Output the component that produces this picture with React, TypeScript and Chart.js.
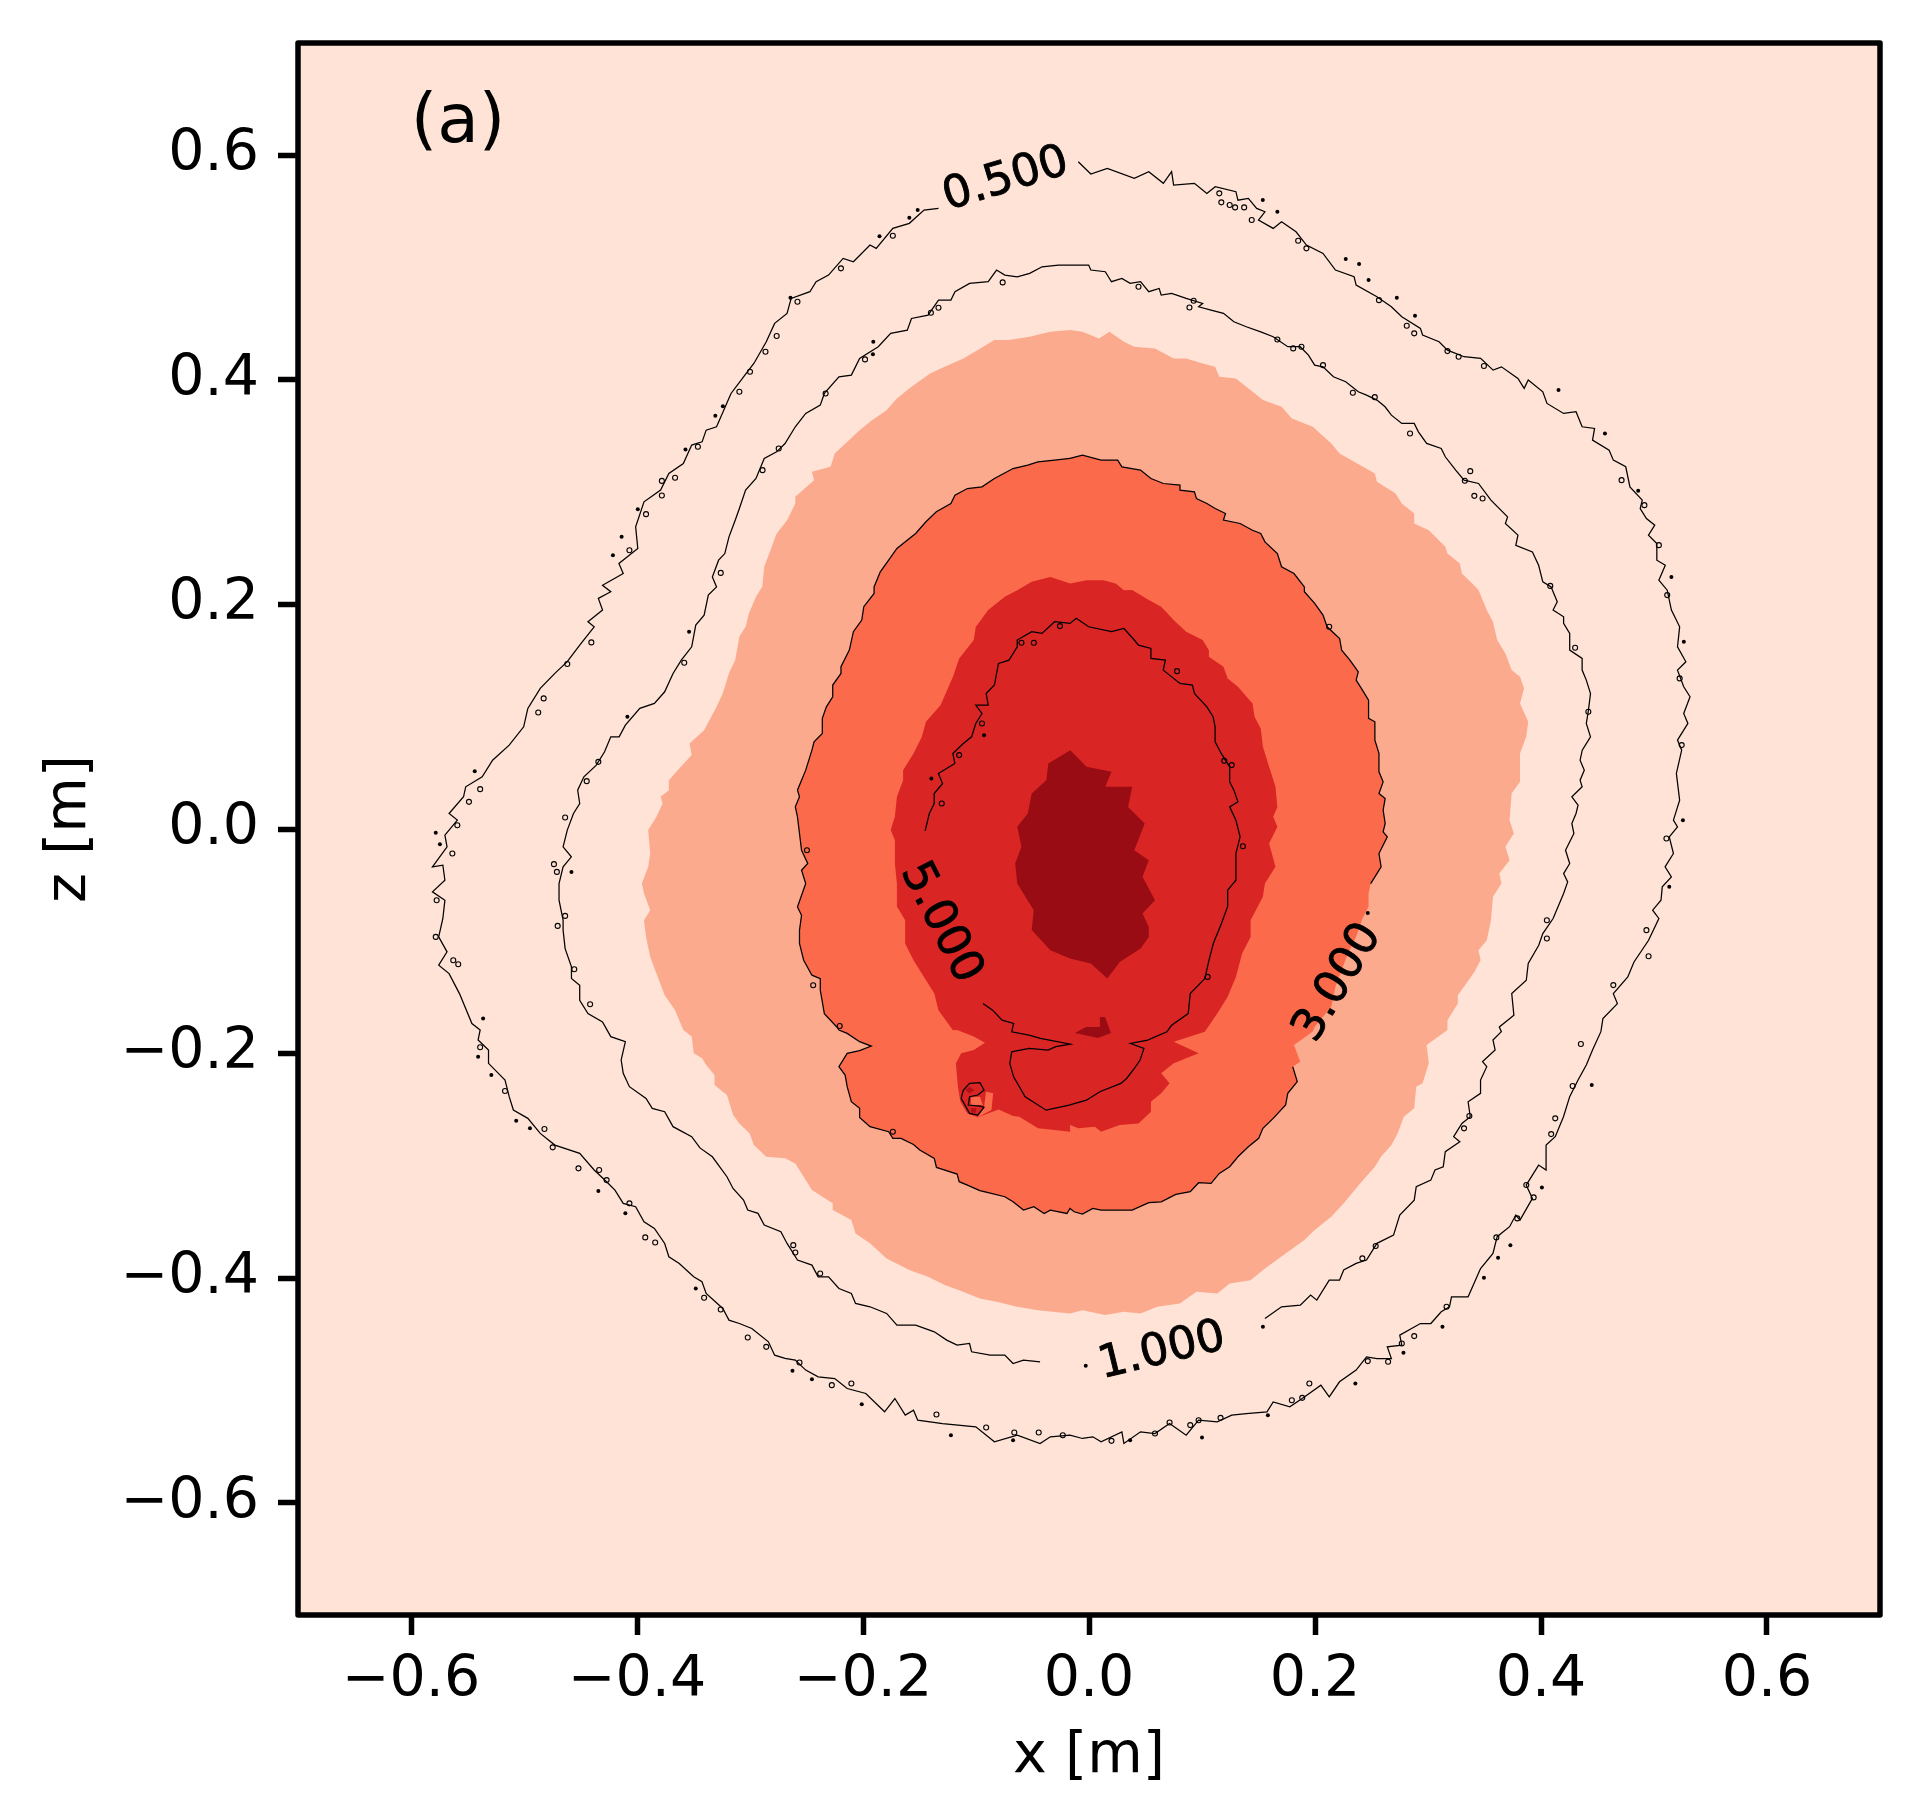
import { useEffect, useRef } from "react";
import { Chart, registerables } from "chart.js";

Chart.register(...registerables);

const tickValues = [-0.6, -0.4, -0.2, 0.0, 0.2, 0.4, 0.6];

// contour lines as [x, z]
const line05 = [
  [-.0095,.5943],[.0016,.5833],[.0162,.5884],[.0401,.5795],[.0529,.5854],[.0658,.575],[.0731,.5854],[.0749,.5735],[.0933,.575],[.1043,.566],[.1117,.572],[.13,.5676],[.1318,.56],[.141,.5616],[.1484,.5527],[.1557,.5497],[.15,.5423],[.163,.5349],[.1704,.5408],[.1832,.5319],[.1924,.52],[.2071,.5126],[.2181,.4978],[.2346,.4918],[.2364,.4844],[.2548,.474],[.2676,.4651],[.2768,.4562],[.2933,.4458],[.2952,.4399],[.3098,.4339],[.3172,.4265],[.3319,.4206],[.3466,.4191],[.3576,.4087],[.365,.4116],[.3796,.4013],[.3851,.3924],[.3887,.3998],[.4016,.3894],[.4053,.379],[.42,.3701],[.431,.3716],[.4364,.3582],[.4474,.3567],[.4456,.3463],[.4603,.3374],[.464,.3285],[.475,.3226],[.4787,.3047],[.4896,.2929],[.4878,.2854],[.4933,.2765],[.5007,.2706],[.4951,.2617],[.5025,.2543],[.5025,.2394],[.51,.2349],[.5043,.2216],[.5117,.2127],
  [.5154,.195],[.5227,.1801],[.5208,.1623],[.5282,.1489],[.5208,.1415],[.5263,.1267],[.5319,.1178],[.5263,.1029],[.53,.094],[.5208,.0792],[.5245,.0702],[.5198,.0495],[.5227,.0257],[.5172,.0079],[.5208,.0019],[.5135,-.007],[.5172,-.0218],[.5098,-.0337],[.5154,-.0426],[.5073,-.0515],[.5062,-.0634],[.4988,-.0723],[.5043,-.0797],[.4952,-.0991],[.4823,-.1184],[.4768,-.1317],[.464,-.1466],[.4676,-.1555],[.4548,-.1689],[.453,-.1805],
  [.4456,-.1968],[.4401,-.2102],[.4328,-.2236],[.4254,-.2384],[.4199,-.2562],[.4126,-.274],[.4045,-.2815],[.4045,-.3037],[.3979,-.2993],[.3869,-.3171],[.3924,-.329],[.3814,-.3483],[.3777,-.3438],[.3722,-.3542],[.3612,-.3631],[.3575,-.378],[.3465,-.3914],[.3355,-.4166],[.3208,-.4166],[.319,-.4255],[.3117,-.43],[.3025,-.4404],[.2933,-.4404],[.275,-.4508],[.2768,-.4597],[.264,-.4612],[.2676,-.4716],[.2548,-.4716],[.2456,-.4701],[.2364,-.4819],[.2217,-.4923],[.2126,-.5057],[.2052,-.4953],[.1887,-.5072],[.1777,-.5146],[.163,-.5102],[.1575,-.5191],[.1392,-.5206],[.1263,-.522],[.1135,-.528],[.097,-.5265],[.086,-.5399],[.0713,-.5295],[.0584,-.5384],[.0456,-.5369],[.0309,-.5473],[.0291,-.5369],[.0107,-.5458],[.0034,-.5413],[-.0058,-.5428],[-.0168,-.5399],
  [-.0342,-.5413],[-.0433,-.5473],[-.0635,-.5399],[-.0837,-.5458],[-.1002,-.5324],[-.1296,-.5295],[-.1516,-.5265],[-.1553,-.5176],[-.1626,-.522],[-.1718,-.5072],[-.1809,-.519],[-.1975,-.5027],[-.214,-.4983],[-.225,-.4894],[-.2397,-.4879],[-.2507,-.4819],[-.2599,-.473],[-.269,-.4715],[-.2782,-.4686],[-.2837,-.4567],[-.2984,-.4448],[-.3094,-.4404],[-.3186,-.4374],[-.3241,-.427],[-.3388,-.4136],[-.3425,-.4032],[-.3498,-.3988],[-.3626,-.3869],[-.3718,-.381],[-.3755,-.3691],[-.3846,-.3557],[-.3938,-.3498],[-.4012,-.3364],[-.4122,-.3334],[-.4195,-.3216],[-.4269,-.3141],[-.4379,-.3037],[-.4507,-.2889],[-.4727,-.2815],[-.4856,-.2711],[-.4966,-.2577],[-.5094,-.2503],[-.5131,-.2384],[-.5168,-.2236],[-.5314,-.2087],[-.5314,-.1968],[-.5406,-.1879],[-.5388,-.179],
  [-.5461,-.1733],[-.5571,-.1466],[-.5663,-.1288],[-.5755,-.1213],[-.5681,-.1094],[-.5755,-.0961],[-.5718,-.0797],[-.57,-.0634],[-.581,-.056],[-.57,-.0456],[-.5718,-.0322],[-.581,-.0337],[-.5681,-.0159],[-.57,-.0055],[-.559,.0079],[-.5663,.0138],[-.5535,.0287],[-.5516,.0376],[-.537,.0465],[-.5278,.0613],[-.5131,.0747],[-.5003,.091],[-.4966,.1074],[-.4856,.1252],[-.4727,.1386],[-.4617,.149],[-.4507,.1638],[-.4379,.1801],[-.4434,.1846],[-.4305,.195],[-.4342,.2054],[-.4232,.2113],
  [-.4305,.2171],[-.4122,.2275],[-.416,.2364],[-.3993,.2498],[-.4012,.2691],[-.3938,.2914],[-.3791,.3018],[-.3718,.3166],[-.359,.3255],[-.3516,.3419],[-.3424,.3448],[-.3388,.3552],[-.3296,.3582],[-.3168,.3879],[-.3057,.4027],[-.2966,.4146],[-.2856,.4339],[-.2782,.4503],[-.2672,.4592],[-.2636,.4725],[-.247,.4785],[-.2415,.4874],[-.2305,.4933],[-.2176,.5082],[-.2085,.5052],[-.1938,.5201],[-.1883,.5171],[-.1736,.5349],[-.159,.5394],[-.146,.5512],[-.1332,.5527],
];

const line10 = [
  [.1557,-.4359],[.1704,-.4255],[.187,-.424],[.1961,-.4151],[.2016,-.4196],[.2126,-.4018],[.2217,-.4018],[.2254,-.3928],[.2364,-.3869],[.2456,-.3839],[.2548,-.369],[.2695,-.3617],[.275,-.3438],[.2878,-.3305],[.2896,-.3186],[.3025,-.3127],[.3062,-.3037],[.3135,-.3008],[.3153,-.2874],[.3282,-.2785],[.3227,-.274],[.33,-.2622],[.3374,-.2562],[.3355,-.2429],[.3465,-.2354],[.3465,-.2236],[.352,-.2117],[.3483,-.2072],[.3594,-.1968],[.3575,-.1879],[.3649,-.1805],
  [.3631,-.1763],[.376,-.1659],[.3741,-.1466],[.387,-.1347],[.3887,-.1198],[.398,-.1035],[.4016,-.0931],[.4107,-.0797],[.42,-.0575],[.4236,-.0471],[.42,-.0397],[.4254,-.0307],[.4217,-.0189],[.4291,-.004],[.4273,.0049],[.431,.0138],[.4328,.0212],[.4273,.0287],[.4364,.0376],[.4346,.0435],[.4383,.0524],[.4346,.0613],[.4365,.0702],[.4438,.0821],[.4401,.094],[.442,.1059],[.4438,.1207],[.4401,.1326],[.4364,.1415],[.4364,.1519],[.4254,.1593],[.4254,.1742],[.42,.1831],[.42,.189],[.4107,.195],[.4144,.2024],[.4107,.2113],
  [.409,.2156],[.4016,.2201],[.3979,.2349],[.3924,.2468],[.3777,.2527],[.3796,.2617],[.3685,.2721],[.3704,.278],[.3557,.2929],[.3447,.3077],[.3319,.3107],[.3245,.3196],[.3153,.3315],[.3117,.3389],[.2988,.3434],[.2915,.3537],[.2878,.3612],[.2768,.3612],[.2676,.3686],[.262,.376],[.2548,.382],[.2456,.3864],[.2383,.3894],[.2272,.3983],[.2163,.4027],[.2071,.4116],[.1997,.4131],[.1942,.422],[.1869,.4295],[.1759,.4295],[.163,.4384],[.152,.4428],[.1392,.4473],[.1282,.4517],[.119,.4592],[.108,.4621],[.097,.4651],[.1006,.4681],[.086,.4725],[.0731,.477],[.0639,.4755],[.0621,.4814],[.0529,.4785],[.0456,.4874],[.0364,.4859],[.0291,.4904],[.0199,.4874],[.0144,.4963],[.0016,.4978],[-.0003,.5022],[-.0095,.5022],[-.0168,.5022],
  [-.027,.5022],[-.0415,.5007],[-.0525,.4948],[-.0635,.4918],[-.0745,.4933],[-.0818,.4978],[-.0892,.4874],[-.1057,.4859],[-.1186,.4785],[-.1222,.471],[-.1332,.471],[-.1424,.4577],[-.1571,.4547],[-.1608,.4443],[-.1755,.4414],[-.1865,.4295],[-.203,.4191],[-.2103,.4042],[-.2213,.4027],[-.2342,.3879],[-.2378,.3775],[-.2507,.3701],[-.2599,.3582],[-.269,.3433],[-.2764,.3359],[-.2874,.33],[-.2947,.3122],[-.3039,.3018],[-.3094,.2854],[-.3131,.275],[-.3186,.2602],[-.3223,.2453],[-.3278,.2394],[-.3333,.2245],[-.3296,.2156],
  [-.3369,.2083],[-.3406,.1905],[-.348,.1816],[-.3516,.1623],[-.3608,.1504],[-.3681,.1385],[-.3755,.1222],[-.3846,.1118],[-.3975,.1074],[-.4103,.0925],[-.4158,.0821],[-.4232,.0821],[-.4287,.0688],[-.436,.0569],[-.447,.0465],[-.4525,.0346],[-.4507,.0227],[-.4562,.0138],[-.4617,-.001],[-.4654,-.0159],[-.4581,-.0248],[-.4654,-.0337],[-.469,-.0486],[-.469,-.0634],[-.4654,-.0812],[-.4654,-.0901],[-.4636,-.1065],[-.458,-.1228],[-.458,-.1332],[-.4507,-.1392],[-.4507,-.1525],[-.4434,-.1644],[-.4305,-.1718],[-.4232,-.1849],
  [-.4103,-.1894],[-.414,-.2057],[-.4122,-.2176],[-.4067,-.2295],[-.392,-.2399],[-.3865,-.2488],[-.3755,-.2518],[-.3681,-.2651],[-.3516,-.274],[-.3443,-.284],[-.3333,-.2919],[-.3204,-.3097],[-.315,-.3201],[-.3057,-.3305],[-.302,-.3394],[-.2929,-.3423],[-.2874,-.3527],[-.2727,-.3587],[-.2672,-.3691],[-.258,-.3839],[-.2452,-.3884],[-.2397,-.3988],[-.2305,-.3988],[-.2213,-.4092],[-.2103,-.4136],[-.2066,-.4225],[-.1938,-.4255],[-.1791,-.4314],[-.17,-.4418],[-.1534,-.4418],[-.1369,-.4478],[-.1259,-.4552],[-.1167,-.4597],[-.1057,-.4582],[-.1039,-.4656],[-.0874,-.4686],[-.0745,-.4686],[-.0672,-.476],[-.058,-.473],[-.0433,-.4745],
];

const line30a = [
  [-.0168,.33],[-.0058,.3329],[.0107,.3285],[.0254,.3285],[.0291,.3225],[.0456,.3196],[.0548,.3121],[.0658,.3077],[.0805,.3062],[.0805,.3018],[.0933,.3003],[.0951,.2943],[.1043,.2899],[.1117,.2854],[.1208,.281],[.119,.2751],[.1337,.2721],[.1447,.2661],[.152,.2632],[.1557,.2557],[.1667,.2453],[.1704,.2335],[.1814,.2275],[.1906,.2156],
  [.1906,.2113],[.1997,.2009],[.2071,.1905],[.2107,.1801],[.2218,.1697],[.2236,.1593],[.2309,.1504],[.2383,.14],[.2364,.1326],[.242,.1237],[.2474,.1148],[.2474,.0985],[.253,.0955],[.253,.0792],[.2566,.0673],[.2566,.0509],[.2603,.042],[.2566,.0316],[.2621,.0272],[.2603,.0168],[.2621,.0049],[.2603,-.0025],[.264,-.007],[.2566,-.0218],[.2585,-.0337],[.2493,-.0486],
];
const fill30gap = [[.2474,-.0575],[.2474,-.069],[.242,-.0797],[.2364,-.096],[.2291,-.1109],[.2181,-.1406],[.2144,-.1584],[.1997,-.1763],[.1979,-.1805],[.1814,-.1924],[.1869,-.2072]];
const line30b = [
  [.1803,-.2117],[.1843,-.225],[.1759,-.2354],[.174,-.2458],[.163,-.2577],[.1539,-.2666],[.1502,-.2755],[.141,-.283],[.1318,-.2919],[.1245,-.3008],[.1153,-.3067],[.108,-.3156],[.097,-.315],[.0896,-.323],[.0768,-.3254],[.0639,-.332],[.0529,-.3328],[.0382,-.3394],[.0254,-.3394],[.0107,-.3394],[.0034,-.3379],[-.0058,-.3429],[-.0131,-.3409],[-.0168,-.3379],
  [-.0195,-.3424],[-.0342,-.3394],[-.0397,-.3424],[-.0488,-.3364],[-.058,-.3394],[-.0672,-.332],[-.0745,-.3275],[-.0892,-.3239],[-.0966,-.322],[-.1076,-.3171],[-.1149,-.3141],[-.1167,-.3073],[-.1296,-.3031],[-.135,-.3014],[-.1369,-.2933],[-.1498,-.2859],[-.1553,-.281],[-.1663,-.2755],[-.1736,-.2755],[-.1773,-.2696],[-.1938,-.2651],[-.203,-.2568],[-.203,-.2488],[-.2103,-.2429],[-.214,-.2295],[-.2158,-.2191],[-.2213,-.2117],[-.214,-.1998],[-.203,-.1974],[-.1927,-.1933],[-.203,-.1894],[-.214,-.182],[-.2213,-.179],
  [-.2232,-.1763],[-.2342,-.1644],[-.2378,-.1436],[-.2378,-.1332],[-.2452,-.1302],[-.2525,-.1169],[-.2562,-.102],[-.2562,-.0901],[-.2544,-.0768],[-.258,-.0694],[-.2507,-.0486],[-.2544,-.0367],[-.2489,-.0307],[-.2544,-.019],[-.2562,-.004],[-.258,.0108],[-.2599,.0197],[-.2562,.0287],[-.258,.0346],[-.2507,.0524],[-.2452,.0702],[-.2433,.0777],[-.236,.0851],[-.236,.0985],[-.2324,.1088],[-.2268,.1178],[-.2268,.1282],[-.2195,.1385],[-.2195,.1445],[-.2121,.1593],[-.2085,.1757],[-.2011,.1861],[-.1993,.198],[-.1902,.2098],
  [-.1902,.2156],[-.1847,.229],[-.1773,.2394],[-.17,.2498],[-.1534,.2632],[-.1443,.2736],[-.1351,.2825],[-.1222,.2899],[-.1186,.2973],[-.1076,.3032],[-.0947,.3047],[-.0837,.3121],[-.0672,.321],[-.0542,.324],[-.0452,.327],[-.0305,.3285],[-.0168,.33],
];

const line50 = [
  [-.145,-.0016],[-.1413,.0138],[-.137,.0227],[-.137,.0316],[-.1296,.0405],[-.1333,.0495],[-.1187,.0584],[-.1205,.0673],[-.1112,.0762],[-.1039,.0821],[-.1002,.094],[-.0947,.1029],[-.1002,.1103],[-.0892,.1103],[-.091,.1207],[-.0837,.1282],[-.0801,.1475],[-.0708,.1504],[-.0635,.1623],[-.0635,.1683],[-.0507,.1757],[-.0416,.1742],[-.0305,.1846],[-.0168,.1831],
  [-.0113,.1876],[-.0003,.1801],[.0199,.1757],[.0309,.1786],[.0401,.1683],[.0438,.1638],[.0548,.1608],[.0548,.1519],[.0676,.1504],[.0657,.1415],[.0805,.1296],[.0915,.1282],[.0933,.1207],[.1043,.1088],[.1098,.1],[.1116,.091],[.1116,.0777],[.117,.0673],[.1245,.0554],[.1245,.042],[.1282,.0346],[.1318,.0242],[.1245,.0197],[.13,.0079],[.1337,-.007],[.13,-.0218],[.13,-.0337],[.13,-.0456],[.1227,-.0545],[.1227,-.069],[.1172,-.0842],[.11,-.102],[.1062,-.1168],[.1025,-.1332],[.0896,-.1466],[.0878,-.1644],[.0731,-.1748],
  [.0689,-.1806],[.0519,-.188],[.0367,-.191],[.0486,-.1954],[.0452,-.2058],[.0401,-.2133],[.0333,-.2222],[.0282,-.2266],[.0096,-.234],[-.0023,-.2415],[-.0176,-.246],[-.0379,-.2504],[-.0565,-.2385],[-.0667,-.2207],[-.0701,-.2088],[-.0684,-.1984],[-.0531,-.1954],[-.0362,-.1969],[-.0294,-.1939],[-.0165,-.1916],[-.043,-.1865],[-.0531,-.1836],[-.0684,-.1806],[-.0667,-.1732],[-.0769,-.1702],[-.0853,-.1613],[-.0938,-.1554],
];

const spotLine = [[-.1057,-.2265],[-.0965,-.2259],[-.0929,-.2325],[-.0984,-.2369],[-.1057,-.2384],[-.1068,-.2458],[-.0965,-.2467],[-.0929,-.2479],[-.0984,-.2547],[-.1057,-.2533],[-.1131,-.2399],[-.1112,-.2325],[-.1057,-.2265]];

// filled bands
const band1 = [
  [-.0168,.4443],[-.0058,.4428],[.0089,.4369],[.0181,.4428],[.0309,.4339],[.0401,.4295],[.0584,.428],[.075,.4191],[.086,.4191],[.1006,.4146],[.1116,.4116],[.1153,.4027],[.13,.4013],[.1392,.3938],[.1539,.382],[.1704,.376],[.1795,.3656],[.198,.3582],[.2144,.3434],[.2218,.3344],[.2401,.324],[.253,.3166],[.2548,.3092],[.2713,.2988],[.2768,.2899],[.2878,.281],[.2878,.2721],[.3007,.2661],[.3153,.2513],[.3172,.2453],[.3282,.2364],[.33,.2275],[.3392,.2186],
  [.3447,.2128],[.352,.195],[.3575,.1846],[.3612,.1683],[.3685,.1564],[.374,.1415],[.3814,.1356],[.385,.1252],[.3814,.1118],[.3887,.0955],[.3869,.0821],[.3814,.0673],[.3814,.0554],[.3814,.042],[.374,.0316],[.3722,.0079],[.3759,-.004],[.3685,-.0159],[.3722,-.0278],[.3631,-.0397],[.365,-.0486],[.3575,-.0604],[.3557,-.0812],[.352,-.0991],[.3447,-.1079],[.3465,-.1168],[.341,-.1273],[.3318,-.1406],[.3264,-.148],[.3264,-.1555],[.3172,-.1703],[.3172,-.179],
  [.2988,-.1924],[.3007,-.2087],[.2952,-.2265],[.2896,-.2295],[.2878,-.2488],[.2786,-.2562],[.2731,-.2711],[.2676,-.2815],[.2584,-.2919],[.253,-.3008],[.2401,-.3156],[.2254,-.3334],[.2144,-.3453],[.1997,-.3572],[.1906,-.3661],[.174,-.378],[.1557,-.3914],[.1429,-.4018],[.1245,-.4047],[.1135,-.4136],[.0951,-.4121],[.0804,-.4225],[.0603,-.4255],[.0456,-.4314],[.0309,-.4299],[.0144,-.4329],[-.0058,-.4285],[-.0168,-.4314],
  [-.0452,-.4285],[-.0635,-.4255],[-.0818,-.421],[-.0966,-.4181],[-.1149,-.4107],[-.1277,-.4062],[-.1424,-.3988],[-.159,-.3928],[-.1791,-.3824],[-.1938,-.369],[-.2066,-.3602],[-.2103,-.3483],[-.2268,-.3394],[-.2268,-.3334],[-.2452,-.3216],[-.2525,-.3097],[-.2599,-.2978],[-.269,-.2933],[-.2856,-.2919],[-.2966,-.2815],[-.3003,-.2711],[-.3094,-.2622],[-.3149,-.2547],[-.3204,-.2369],[-.3314,-.228],[-.3314,-.2191],[-.3388,-.2102],[-.3424,-.2042],[-.3498,-.1998],[-.3516,-.1849],[-.359,-.179],
  [-.3663,-.1614],[-.3755,-.148],[-.3828,-.1288],[-.3883,-.1139],[-.392,-.0961],[-.3938,-.0812],[-.3883,-.0723],[-.3938,-.0575],[-.3957,-.0486],[-.3901,-.0337],[-.3883,-.0218],[-.3901,-.001],[-.3828,.0109],[-.3773,.0227],[-.3791,.0287],[-.3718,.0346],[-.3718,.0435],[-.3626,.0539],[-.3516,.0658],[-.3535,.0762],[-.3406,.088],[-.3296,.1089],[-.3241,.1207],[-.3186,.1386],[-.3131,.1504],[-.3094,.1712],[-.3039,.1801],[-.301,.192],[-.2947,.2069],[-.291,.2128],
  [-.2892,.2156],[-.2874,.2335],[-.2819,.2483],[-.2764,.2632],[-.2672,.275],[-.2599,.2899],[-.2599,.2958],[-.2433,.3107],[-.2452,.3181],[-.2287,.3226],[-.225,.3344],[-.203,.3552],[-.192,.3641],[-.1791,.373],[-.17,.3834],[-.1571,.3938],[-.1406,.4057],[-.1277,.4116],[-.1112,.4191],[-.0984,.4265],[-.0837,.4354],[-.0708,.4354],[-.0525,.4384],[-.0342,.4428],
];

const band3 = [
  [-.0635,.2127],[-.0507,.2201],[-.0342,.2245],[-.0166,.2186],[-.0021,.2216],[.0126,.2216],[.0236,.2186],[.0309,.2127],[.0382,.2128],[.0529,.2039],[.0639,.1979],[.0749,.1861],[.086,.1757],[.1006,.1683],[.1061,.1593],[.1061,.1534],[.119,.1445],[.1227,.134],[.1318,.1267],[.1447,.1118],[.1465,.1],[.152,.0895],[.1539,.0732],[.1594,.0554],[.165,.0376],[.1667,.0197],[.163,.0108],[.1667,.0019],[.1594,-.0129],[.165,-.0337],[.1557,-.0486],[.1539,-.0604],[.143,-.0812],[.143,-.0961],[.1355,-.1109],[.13,-.1317],[.1227,-.1495],[.1135,-.1644],[.1043,-.1778],
  [.1025,-.1805],[.075,-.1894],[.097,-.1998],[.075,-.2087],[.0639,-.2176],[.0713,-.2265],[.0639,-.2354],[.0548,-.2429],[.0548,-.2518],[.0438,-.2622],[.0272,-.2637],[.0107,-.2696],[.0052,-.2651],[-.0095,-.2666],[-.0168,-.2637],[-.0166,-.2696],[-.0451,-.2666],[-.0617,-.2562],
  [-.0672,-.2556],[-.08,-.2497],[-.0984,-.2568],[-.1076,-.2533],[-.1138,-.2429],[-.116,-.2295],[-.1178,-.2087],[-.1131,-.1998],[-.102,-.1968],[-.0921,-.1903],[-.102,-.1849],[-.1167,-.179],
  [-.1204,-.1792],[-.1332,-.1614],[-.1369,-.1466],[-.1553,-.1169],[-.1627,-.102],[-.1627,-.0812],[-.17,-.069],[-.17,-.0486],[-.1718,-.0307],[-.1718,-.0099],[-.1755,-.001],[-.1718,.0108],[-.17,.0287],[-.1645,.0435],[-.1645,.0524],[-.1553,.0673],[-.1479,.0821],[-.1443,.0955],[-.1314,.1103],[-.1204,.1356],[-.1149,.1519],[-.102,.1683],[-.1002,.18],[-.0892,.195],[-.0745,.2069],
];

const band4 = [
  [-.0166,.0702],[-.0021,.0554],[.0199,.0509],[.0144,.0376],[.0382,.0376],[.0346,.0197],[.0493,.0049],[.0401,-.0189],[.0529,-.0278],[.0474,-.0426],[.0584,-.0634],[.0474,-.0753],[.0529,-.0872],[.0529,-.0961],[.0456,-.1065],[.0272,-.1184],[.0162,-.1332],[.0016,-.1198],[-.0168,-.1154],[-.0342,-.108],[-.0507,-.09],[-.0489,-.0723],[-.0635,-.0486],[-.0653,-.0307],[-.0598,-.0159],[-.0635,.0019],[-.0542,.0138],[-.0507,.0316],[-.0378,.0435],[-.036,.0584],
];
const band4b = [[.0097,-.1674],[.0142,-.1674],[.0195,-.1817],[.008,-.1861],[-.0124,-.1817],[-.0027,-.1763],[.0097,-.1763]];

const spotHalo = [[-.0911,-.234],[-.0848,-.2354],[-.0863,-.2503],[-.0984,-.2568],[-.0929,-.2479]];
const spotCore = [[-.1045,-.2389],[-.0965,-.2384],[-.094,-.2458],[-.1045,-.2458]];
const spotDots1 = [[-.1057,-.2295],[-.1015,-.2325],[-.1057,-.2355],[-.1097,-.2325]];
const spotDots2 = [[-.1045,-.2487],[-.0999,-.2487],[-.1,-.2527],[-.1045,-.2527]];

// the small stray islands beside the thin contours
const specks = [
  [-.324,.3766],[-.3307,.368],[-.3571,.338],[-.4213,.2439],[-.4136,.2602],[-.3993,.2848],[-.159,.5444],[-.1854,.528],[-.1516,.5512],[-.2642,.4731],[-.1909,.4339],[-.1912,.4229],
  [.1667,.5498],[.1538,.5602],[.2272,.5076],[.239,.5031],[.2474,.4889],[.2724,.4731],[.2885,.4571],[.4155,.3909],[.4566,.3522],[.486,.3012],[.5154,.2245],
  [.5256,.0079],[.5264,.1668],[.5135,-.0515],[.4449,-.228],[.4008,-.3192],[.3729,-.3706],[.362,-.3818],[.3495,-.3997],[.3128,-.4433],[.2357,-.4938],[.1583,-.522],[.1,-.5419],[.0364,-.5443],[.2783,-.4665],[.1539,-.4433],[-.0029,-.4781],
  [-.2011,-.5122],[-.2452,-.49],[-.2624,-.4825],[-.1222,-.5399],[-.0672,-.5443],[-.348,-.4092],[-.4342,-.3224],[-.4103,-.3423],[-.5069,-.2598],[-.5289,-.2191],[-.4947,-.2666],[-.5406,-.2028],
  [-.5781,-.0034],[-.5744,-.0135],[-.5436,.0515],[-.5362,-.1688],[-.3539,.1757],[-.4085,.1],[-.458,-.0382],[-.1395,.045],[-.0929,.0836],[.2467,-.0747],
];

// little closed loops along the contours
const rings = [
  [-.1736,.5284],[-.2195,.4993],[-.258,.4696],[-.2764,.439],[-.2863,.425],[-.3,.4072],[-.3094,.3894],[-.3461,.3404],[-.3663,.3128],[-.378,.297],[-.392,.2804],[-.4067,.2483],[-.1332,.4642],[-.1399,.4598],[-.1982,.4182],[-.2331,.3879],[-.2746,.3389],[-.2889,.3196],[-.3259,.2281],[-.0764,.4868],[-.378,.31],
  [.1153,.5661],[.1171,.5581],[.1245,.5557],[.1293,.5536],[.1373,.5536],[.144,.5423],[.1851,.5239],[.1924,.5171],[.2566,.471],[.2812,.4482],[.2878,.4414],[.3172,.4256],[.3271,.4206],[.3495,.4123],[.4713,.3107],[.4915,.2884],[.5043,.2528],[.0889,.4645],[.0926,.4705],[.0438,.4829],[.1667,.436],[.1807,.428],[.188,.4295],[.2071,.4131],[.2335,.3885],[.2529,.3846],[.2841,.3522],[.3326,.3101],[.3374,.3187],[.341,.2967],[.3483,.2943],[.4082,.2165],
  [-.4404,.1662],[-.4617,.1469],[-.4826,.1163],[-.4874,.1038],[-.5388,.0355],[-.5487,.0242],[-.559,.0034],[-.5634,-.0218],[-.5773,-.0634],[-.5781,-.0961],[-.5626,-.1169],[-.5582,-.1204],[-.3582,.1481],[-.4342,.0598],[-.4445,.0426],[-.4636,.0102],[-.4735,-.0313],[-.4709,-.0382],[-.4636,-.0774],[-.4702,-.0863],[-.4555,-.1249],[-.4415,-.1561],[-.0257,.1807],[-.0488,.1659],[-.0598,.1659],[-.0947,.094],[-.1303,.0227],[-.1149,.0658],[-.2496,-.0189],[-.2441,-.1391],[-.2206,-.1754],
  [.4302,.1614],[.4419,.1044],[.1197,.0607],[.1263,.0569],[.0779,.1406],[.1362,-.0153],[.4052,-.0812],[.4052,-.0975],[.4952,-.1133],[.464,-.139],[.4933,-.0901],[.5227,.1341],[.5245,.0747],[.511,-.0085],[.5117,.2083],[.105,-.1317],[.2126,.1801],
  [-.4819,-.2672],[-.4746,-.2835],[-.4335,-.3037],[-.4269,-.3127],[-.4518,-.3022],[-.4067,-.3334],[-.3927,-.3637],[-.3839,-.3682],[-.3406,-.4175],[-.3259,-.4279],[-.302,-.4528],[-.2856,-.4612],[-.2562,-.4751],[-.2276,-.4953],[-.2103,-.4938],[-.135,-.5214],[-.091,-.533],[-.0661,-.5375],[-.0445,-.5375],[-.0232,-.5399],[-.2617,-.3706],[-.2599,-.3771],[-.2379,-.3958],[-.1736,-.2696],[-.5168,-.2334],[-.5388,-.1944],
  [.4353,-.1915],[.428,-.2289],[.4126,-.2577],[.409,-.2717],[.387,-.3171],[.3935,-.3281],[.379,-.3468],[.3605,-.3637],[.3164,-.4255],[.2878,-.4516],[.2768,-.4582],[.2647,-.4745],[.2467,-.4739],[.195,-.4938],[.1887,-.5066],[.1795,-.5087],[.1164,-.5244],[.097,-.5265],[.0896,-.5309],[.0713,-.5286],[.0584,-.5384],[.0199,-.5449],[.3319,-.2666],[.3366,-.2556],[.2537,-.3714],[.2419,-.3824],
];

const labelTexts = ["0.500", "1.000", "3.000", "5.000"];
const labelX = [-0.0735, 0.0646, 0.2207, -0.1315];
const labelZ = [0.578, -0.4655, -0.137, -0.0835];
const labelAngles = [-17, -13.6, -59, 63];

const FONT = "'DejaVu Sans'";

const toPoints = (rows: number[][]) => rows.map(([x, y]) => ({ x, y }));

const filled = (rows: number[][], color: string, order: number) => ({
  data: toPoints(rows),
  showLine: true,
  fill: "shape",
  backgroundColor: color,
  borderWidth: 0,
  pointRadius: 0,
  order,
});

const contour = (rows: number[][]) => ({
  data: toPoints(rows),
  showLine: true,
  fill: false,
  borderColor: "#000",
  borderWidth: 1.25,
  pointRadius: 0,
  order: 1,
});

const framePlugin = {
  id: "frame",
  beforeDatasetsDraw(chart: any) {
    const { ctx, chartArea: a } = chart;
    ctx.save();
    ctx.fillStyle = "#fee3d6";
    ctx.fillRect(a.left, a.top, a.right - a.left, a.bottom - a.top);
    ctx.restore();
  },
  afterDatasetsDraw(chart: any) {
    const { ctx, chartArea: a, scales } = chart;
    ctx.save();
    ctx.fillStyle = "#000";
    ctx.strokeStyle = "#000";
    ctx.lineJoin = "round";
    ctx.textAlign = "center";
    ctx.textBaseline = "middle";
    ctx.font = `45px ${FONT}`;
    ctx.lineWidth = 0.9;
    labelTexts.forEach((t, i) => {
      ctx.save();
      ctx.translate(scales.x.getPixelForValue(labelX[i]), scales.y.getPixelForValue(labelZ[i]));
      ctx.rotate((labelAngles[i] * Math.PI) / 180);
      ctx.fillText(t, 0, 0);
      ctx.strokeText(t, 0, 0);
      ctx.restore();
    });
    ctx.font = `68px ${FONT}`;
    ctx.fillText("(a)", scales.x.getPixelForValue(-0.5584), scales.y.getPixelForValue(0.628));
    ctx.lineWidth = 5.5;
    ctx.strokeRect(a.left, a.top, a.right - a.left, a.bottom - a.top);
    ctx.restore();
  },
};

const axis = (title: string, size: number, isX: boolean) => ({
  type: "linear" as const,
  min: -0.7,
  max: 0.7,
  afterBuildTicks: (scale: any) => {
    scale.ticks = tickValues.map((value) => ({ value }));
  },
  afterFit: (scale: any) => {
    scale.paddingTop = 0;
    scale.paddingBottom = 0;
    scale.paddingLeft = 0;
    scale.paddingRight = 0;
    if (isX) scale.height = size;
    else scale.width = size;
  },
  border: { display: false },
  grid: { drawOnChartArea: false, color: "#000", tickColor: "#000", tickLength: 20, tickWidth: 5.5 },
  ticks: {
    color: "#000",
    padding: isX ? 12 : 19,
    autoSkip: false,
    maxRotation: 0,
    font: { family: FONT, size: 57 },
    callback: (v: any) => (Number(v) < 0 ? "\u2212" : "") + Math.abs(Number(v)).toFixed(1),
  },
  title: {
    display: true,
    text: title,
    color: "#000",
    font: { family: FONT, size: 57 },
    padding: isX ? { bottom: 20, top: 0 } : { top: 36, bottom: 0 },
  },
});

export default function App() {
  const canvasRef = useRef<HTMLCanvasElement>(null);

  useEffect(() => {
    if (!canvasRef.current) return;
    document.body.style.margin = "0";

    const chart = new Chart(canvasRef.current, {
      type: "scatter",
      data: {
        datasets: [
          filled(band1, "#fcaa8e", 20),
          filled([...line30a, ...fill30gap, ...line30b], "#fb6b4b", 19),
          filled(band3, "#d92523", 18),
          filled(band4, "#9a0c14", 17),
          filled(band4b, "#9a0c14", 17),
          filled(spotHalo, "#fb6b4b", 16),
          filled(spotCore, "#fb6b4b", 16),
          filled(spotDots1, "#b51218", 16),
          filled(spotDots2, "#b51218", 16),
          contour(line05),
          contour(line10),
          contour(line30a),
          contour(line30b),
          contour(line50),
          contour(spotLine),
          {
            data: toPoints(specks),
            showLine: false,
            pointRadius: 2,
            pointBorderWidth: 0,
            pointBackgroundColor: "#000",
            order: 1,
          },
          {
            data: toPoints(rings),
            showLine: false,
            pointRadius: 2.5,
            pointBorderWidth: 1.1,
            pointBorderColor: "#000",
            pointBackgroundColor: "rgba(0,0,0,0)",
            order: 1,
          },
        ],
      } as any,
      options: {
        animation: false,
        responsive: false,
        devicePixelRatio: 1,
        layout: { padding: { top: 43, right: 44, left: 0, bottom: 0 } },
        plugins: { legend: { display: false }, tooltip: { enabled: false } },
        scales: {
          x: axis("x [m]", 196, true),
          y: axis("z [m]", 298, false),
        },
      } as any,
      plugins: [framePlugin],
    });

    return () => {
      chart.destroy();
    };
  }, []);

  return <canvas ref={canvasRef} width={1924} height={1811} style={{ display: "block" }} />;
}
